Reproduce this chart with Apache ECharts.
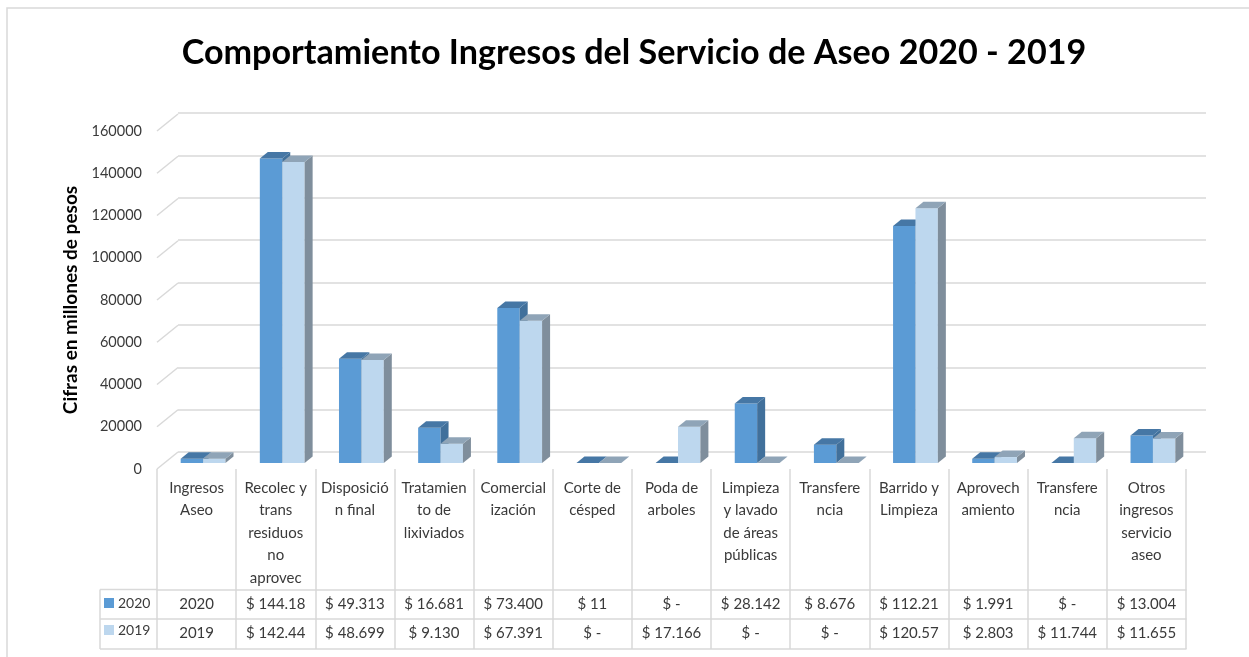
<!DOCTYPE html>
<html>
<head>
<meta charset="utf-8">
<script src="https://cdn.jsdelivr.net/npm/echarts@6/dist/echarts.min.js"></script>
<style>
  html, body { margin: 0; padding: 0; background: #fff; }
  #chart { width: 1249px; height: 657px; }
</style>
</head>
<body>
<div id="chart"></div>
<script>
// categorias (tal como se ven en la tabla, con sus cortes de linea)
const categorias = [
  'Ingresos\nAseo', 'Recolec y\ntrans\nresiduos\nno\naprovec', 'Disposició\nn final',
  'Tratamien\nto de\nlixiviados', 'Comercial\nización', 'Corte de\ncésped', 'Poda de\narboles',
  'Limpieza\ny lavado\nde áreas\npúblicas', 'Transfere\nncia', 'Barrido y\nLimpieza',
  'Aprovech\namiento', 'Transfere\nncia', 'Otros\ningresos\nservicio\naseo'
]
const valores2020 = [2020, 144180, 49313, 16681, 73400, 11, 0, 28142, 8676, 112210, 1991, 0, 13004]
const valores2019 = [2019, 142440, 48699, 9130, 67391, 0, 17166, 0, 0, 120570, 2803, 11744, 11655]
// texto de la tabla de datos
const tabla2020 = ['2020', '$ 144.18', '$ 49.313', '$ 16.681', '$ 73.400', '$ 11', '$ -', '$ 28.142', '$ 8.676', '$ 112.21', '$ 1.991', '$ -', '$ 13.004']
const tabla2019 = ['2019', '$ 142.44', '$ 48.699', '$ 9.130', '$ 67.391', '$ -', '$ 17.166', '$ -', '$ -', '$ 120.57', '$ 2.803', '$ 11.744', '$ 11.655']
const yTicks = [0, 20000, 40000, 60000, 80000, 100000, 120000, 140000, 160000]

const FONT = 'Lato'
const TXT = '#3a3a3a'
const LINE = '#d9d9d9'
// profundidad del efecto 3D
const DEPTH_X = 21, DEPTH_Y = 17
const BAR_OX = 6.5, BAR_OY = 6, BAR_DX = 8, BAR_DY = 6.5

const colores = {
  '2020': { front: '#5b9bd5', top: '#4677a5', side: '#41709b' },
  '2019': { front: '#bdd7ee', top: '#8fa4b7', side: '#7f8e9c' }
}

function barRenderer(serie, left) {
  const c = colores[serie]
  return function (params, api) {
    const cat = api.value(0)
    const base = api.coord([cat, 0])
    const top = api.coord([cat, api.value(1)])
    const w = api.size([1, 0])[0] * 0.283
    const x = base[0] + BAR_OX - (left ? w : 0)
    const yb = base[1] - BAR_OY
    const yt = top[1] - BAR_OY
    return {
      type: 'group',
      children: [
        { type: 'rect', shape: { x: x, y: yt, width: w, height: yb - yt }, style: { fill: c.front } },
        { type: 'polygon', shape: { points: [[x + w, yt], [x + w + BAR_DX, yt - BAR_DY], [x + w + BAR_DX, yb - BAR_DY], [x + w, yb]] }, style: { fill: c.side } },
        { type: 'polygon', shape: { points: [[x, yt], [x + BAR_DX, yt - BAR_DY], [x + w + BAR_DX, yt - BAR_DY], [x + w, yt]] }, style: { fill: c.top } }
      ]
    }
  }
}

const tableAxis = (data, offset, showLabel) => ({
  type: 'category', gridIndex: 0, position: 'bottom', offset: offset, data: data,
  axisLine: { show: true, lineStyle: { color: LINE, width: 1.5 } },
  axisTick: { show: false },
  axisLabel: { show: showLabel, interval: 0, margin: 14.5, verticalAlign: 'middle', fontFamily: FONT, fontSize: 15, color: TXT }
})

const option = {
  animation: false,
  textStyle: { fontFamily: FONT },
  legend: {
    data: ['2020', '2019'], orient: 'vertical', left: 104, top: 596, padding: 0,
    itemWidth: 10, itemHeight: 10, itemGap: 13, icon: 'rect',
    textStyle: { fontFamily: FONT, fontSize: 14, color: TXT, padding: [0, 0, 0, -1] }
  },
  grid: [
    { left: 157, right: 63, top: 131, bottom: 188 },
    { left: 178, right: 43, top: 113, bottom: 205 }
  ],
  xAxis: [
    {
      type: 'category', gridIndex: 0, data: categorias,
      axisLine: { show: false },
      axisTick: { show: true, interval: 0, length: 180, lineStyle: { color: LINE, width: 1.5 } },
      axisLabel: { interval: 0, margin: 8, fontFamily: FONT, fontSize: 15, lineHeight: 22.4, color: TXT }
    },
    tableAxis(tabla2020, 120.5, true),
    tableAxis(tabla2019, 150, true),
    tableAxis(categorias, 180, false),
    { type: 'category', gridIndex: 1, data: categorias, show: false }
  ],
  yAxis: [
    {
      type: 'value', gridIndex: 0, min: 0, max: 160000, interval: 20000,
      name: 'Cifras en millones de pesos', nameLocation: 'middle', nameGap: 74, nameRotate: 90,
      nameTextStyle: { fontFamily: FONT, fontWeight: 'bold', fontSize: 19, color: '#000' },
      axisLine: { show: false }, axisTick: { show: false }, splitLine: { show: false },
      axisLabel: { margin: 15, fontFamily: FONT, fontSize: 14.5, color: TXT, formatter: v => String(v) }
    },
    {
      type: 'value', gridIndex: 1, min: 0, max: 160000, interval: 20000,
      axisLine: { show: false }, axisTick: { show: false }, axisLabel: { show: false },
      splitLine: { show: true, lineStyle: { color: LINE, width: 1.5 } }
    }
  ],
  series: [
    {
      // diagonales del piso/pared izquierda
      type: 'custom', name: 'grid3d', xAxisIndex: 0, yAxisIndex: 0, silent: true,
      data: yTicks.map(v => [0, v]),
      renderItem: function (params, api) {
        const p = api.coord([0, api.value(1)])
        const x0 = params.coordSys.x
        return { type: 'line', shape: { x1: x0, y1: p[1], x2: x0 + DEPTH_X, y2: p[1] - DEPTH_Y }, style: { stroke: LINE, lineWidth: 1.5 } }
      }
    },
    {
      type: 'custom', name: '2020', xAxisIndex: 0, yAxisIndex: 0,
      itemStyle: { color: colores['2020'].front },
      data: valores2020.map((v, i) => [i, v]),
      renderItem: barRenderer('2020', true)
    },
    {
      type: 'custom', name: '2019', xAxisIndex: 0, yAxisIndex: 0,
      itemStyle: { color: colores['2019'].front },
      data: valores2019.map((v, i) => [i, v]),
      renderItem: barRenderer('2019', false)
    }
  ],
  graphic: [
    { type: 'rect', shape: { x: 7, y: 8, width: 1260, height: 680 }, style: { fill: null, stroke: LINE, lineWidth: 1.5 }, silent: true },
    {
      type: 'text', x: 634, y: 53, scaleX: 0.975,
      style: { text: 'Comportamiento Ingresos del Servicio de Aseo 2020 - 2019', font: 'bold 35px Lato', fill: '#000', textAlign: 'center', textVerticalAlign: 'middle' }
    },
    // celdas de la leyenda de la tabla
    { type: 'line', shape: { x1: 100, y1: 589.5, x2: 157, y2: 589.5 }, style: { stroke: LINE, lineWidth: 1.5 } },
    { type: 'line', shape: { x1: 100, y1: 619, x2: 157, y2: 619 }, style: { stroke: LINE, lineWidth: 1.5 } },
    { type: 'line', shape: { x1: 100, y1: 649, x2: 157, y2: 649 }, style: { stroke: LINE, lineWidth: 1.5 } },
    { type: 'line', shape: { x1: 100, y1: 589.5, x2: 100, y2: 649 }, style: { stroke: LINE, lineWidth: 1.5 } }
  ]
}

const chart = echarts.init(document.getElementById('chart'))
chart.setOption(option)
</script>
</body>
</html>
